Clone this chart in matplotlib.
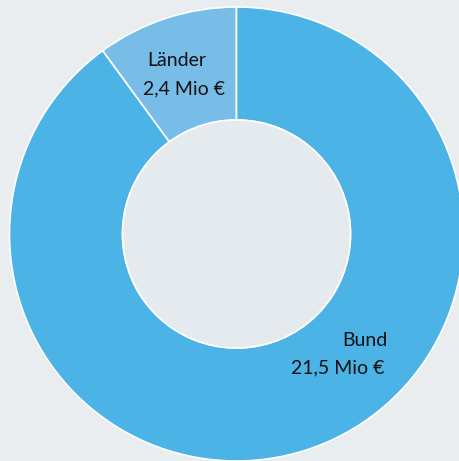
import matplotlib
matplotlib.use("Agg")
import matplotlib.pyplot as plt

# Daten
labels = ["Länder", "Bund"]
values = [2.4, 21.5]
value_labels = ["2,4 Mio €", "21,5 Mio €"]
colors = ["#78bde8", "#4bb3e5"]

bg = "#e9edf0"
hole = "#e5eaee"

W, H = 459, 461
fig = plt.figure(figsize=(W / 100, H / 100), dpi=100, facecolor=bg)
ax = fig.add_axes([0, 0, 1, 1])

cx, cy = 236.5, H - 234
R, r = 227, 114

wedges, _ = ax.pie(values, colors=colors, startangle=90, counterclock=True,
                   radius=R, center=(cx, cy), frame=True,
                   wedgeprops=dict(width=R - r, edgecolor="white", linewidth=1.2))
ax.add_patch(plt.Circle((cx, cy), r, facecolor=hole, edgecolor="white", lw=1.2, zorder=3))
ax.set_xlim(0, W)
ax.set_ylim(0, H)
ax.set_aspect("equal")
ax.axis("off")

font = dict(family="Lato", fontsize=14, color="#111111")
ax.text(206, H - 61, labels[0], ha="right", va="center", **font)
ax.text(225, H - 89, value_labels[0], ha="right", va="center", **font)
ax.text(388, H - 340, labels[1], ha="right", va="center", **font)
ax.text(384, H - 368, value_labels[1], ha="right", va="center", **font)

fig.savefig("out.png", dpi=100, facecolor=bg)
